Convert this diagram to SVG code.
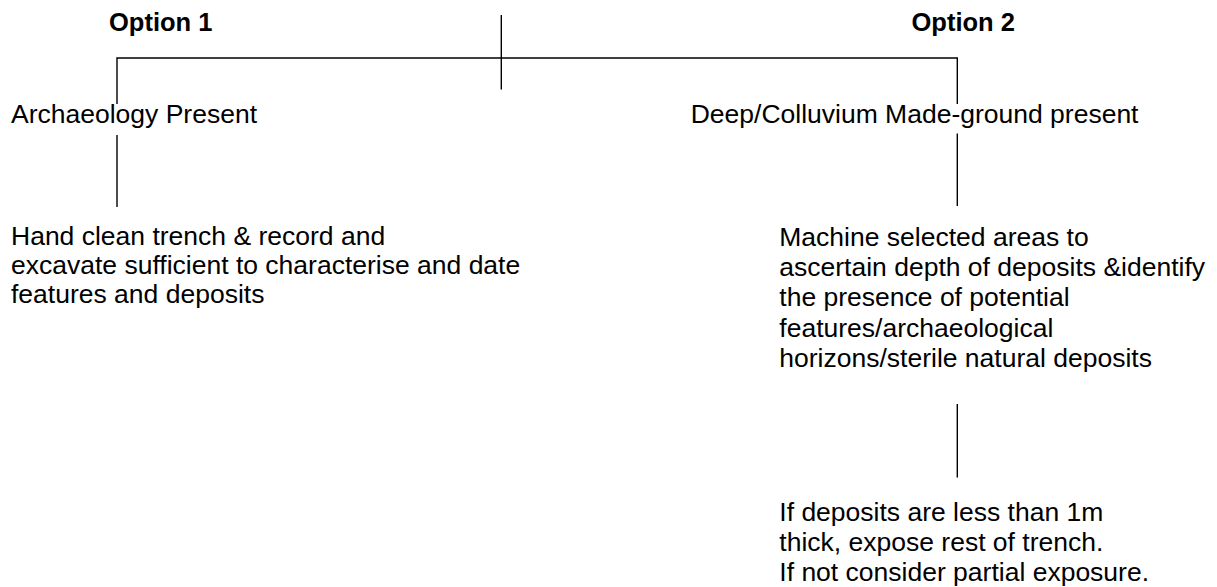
<svg xmlns="http://www.w3.org/2000/svg" width="1217" height="587" viewBox="0 0 1217 587">
<style>
.t{font-family:"Liberation Sans",Arial,sans-serif;font-size:26.5px;fill:#000}
.b{font-family:"Liberation Sans",Arial,sans-serif;font-size:25.5px;font-weight:bold;fill:#000}
.c{stroke:#000;stroke-width:1.4;fill:none}
</style>
<rect width="1217" height="587" fill="#fff"/>
<g id="connectors">
<line class="c" x1="501.3" y1="15" x2="501.3" y2="89.5"/>
<polyline class="c" points="117,104 117,58 957.3,58 957.3,104"/>
<line class="c" x1="117" y1="135" x2="117" y2="207"/>
<line class="c" x1="957.3" y1="133.5" x2="957.3" y2="206"/>
<line class="c" x1="957.3" y1="404" x2="957.3" y2="477.5"/>
</g>
<g id="option1"><text class="b" x="109" y="31">Option 1</text></g>
<g id="option2"><text class="b" x="911.5" y="31">Option 2</text></g>
<g id="archaeology-present"><text class="t" x="11" y="123.3">Archaeology Present</text></g>
<g id="deep-colluvium"><text class="t" x="690.7" y="123">Deep/Colluvium Made-ground present</text></g>
<g id="hand-clean">
<text class="t" x="11" y="245">Hand clean trench &amp; record and</text>
<text class="t" x="11" y="274.2">excavate sufficient to characterise and date</text>
<text class="t" x="11" y="303.4">features and deposits</text>
</g>
<g id="machine-selected">
<text class="t" x="779.3" y="246">Machine selected areas to</text>
<text class="t" x="779.3" y="276.2">ascertain depth of deposits &amp;identify</text>
<text class="t" x="779.3" y="306.4">the presence of potential</text>
<text class="t" x="779.3" y="336.6">features/archaeological</text>
<text class="t" x="779.3" y="366.8">horizons/sterile natural deposits</text>
</g>
<g id="if-deposits">
<text class="t" x="779.3" y="520.7">If deposits are less than 1m</text>
<text class="t" x="779.3" y="550.7">thick, expose rest of trench.</text>
<text class="t" x="779.3" y="580.7">If not consider partial exposure.</text>
</g>
</svg>
